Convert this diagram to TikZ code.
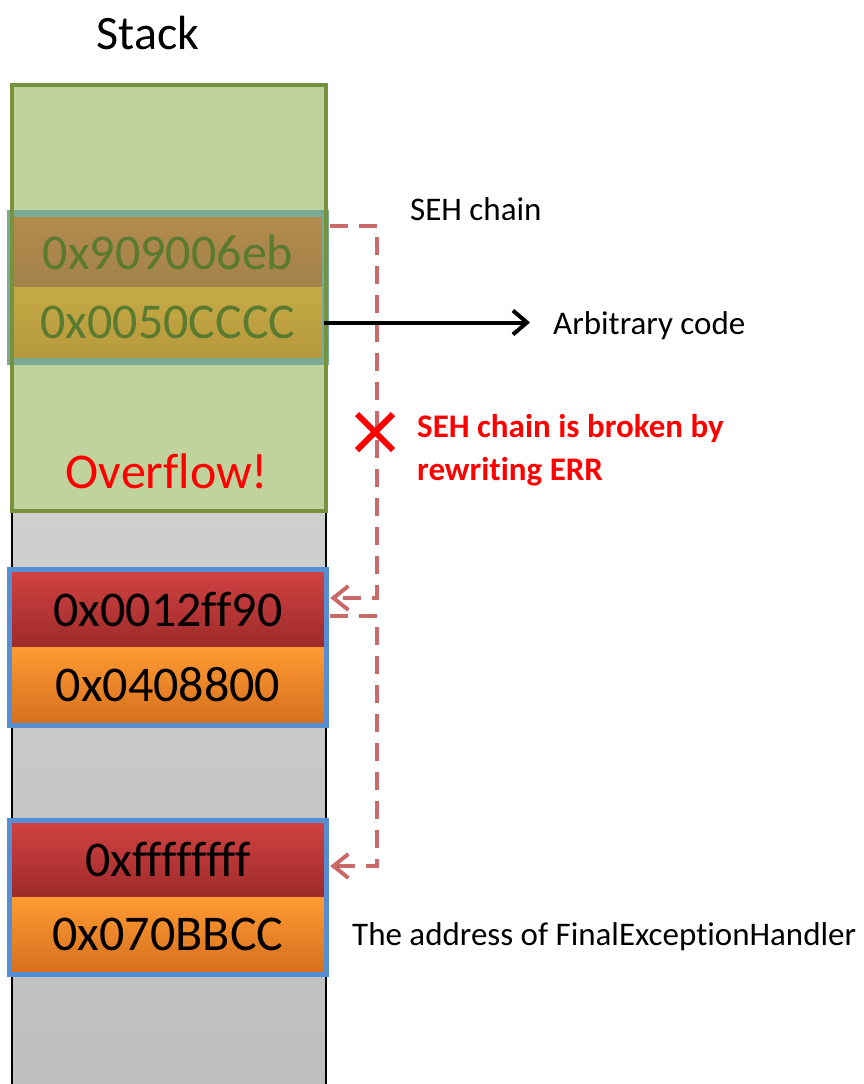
\documentclass[tikz,border=0pt]{standalone}
\usepackage{fontspec}
\setmainfont{Carlito}[Ligatures=NoCommon]
\usetikzlibrary{positioning,arrows.meta,calc}

\definecolor{stackA}{HTML}{DCDCDC}
\definecolor{stackB}{HTML}{BEBEBE}
\definecolor{overfill}{HTML}{C0D39C}
\definecolor{overedge}{HTML}{76923C}
\definecolor{oldframe}{HTML}{7AA996}
\definecolor{oldtext}{HTML}{5A7A30}
\definecolor{brownA}{HTML}{B38A4C}
\definecolor{brownB}{HTML}{A2834A}
\definecolor{oliveA}{HTML}{C6AA45}
\definecolor{oliveB}{HTML}{B5993C}
\definecolor{recframe}{HTML}{558ED5}
\definecolor{redA}{HTML}{D04242}
\definecolor{redB}{HTML}{9E2A2A}
\definecolor{orangeA}{HTML}{FF9A33}
\definecolor{orangeB}{HTML}{D6701E}
\definecolor{chainred}{HTML}{C0504D}

\begin{document}
\begin{tikzpicture}[x=1pt,y=-1pt,
  cell/.style={minimum width=312pt, inner sep=0pt, font=\fontsize{50}{54}\selectfont},
  nextcell/.style={cell, top color=redA, bottom color=redB},
  handcell/.style={cell, top color=orangeA, bottom color=orangeB},
  recbox/.style={draw=recframe, line width=5pt},
  chain/.style={draw=chainred, opacity=0.85, line width=4pt, dash pattern=on 18pt off 11pt,
    -{Straight Barb[length=15pt, width=24pt, line width=4pt]}},
  pointer/.style={line width=4pt, -{Straight Barb[length=14pt, width=24pt, line width=4pt]}},
  note/.style={font=\fontsize{33}{38}\selectfont, inner sep=0pt}]
\useasboundingbox (0,0) rectangle (863,1084);

% stack column
\shade[top color=stackA, bottom color=stackB] (12,83) rectangle (326,1084);
\draw[line width=2pt] (12,83) -- (12,1084);
\draw[line width=2pt] (326,83) -- (326,1084);
\node[font=\fontsize{48}{52}\selectfont, inner sep=0pt] (stacklbl) at (148,33) {Stack};

% overflowed area
\fill[overfill] (12,85) rectangle (326,511);
\node[cell, minimum height=70pt, top color=brownA, bottom color=brownB, text=oldtext] (next1) at (168,252) {0x909006eb};
\node[cell, minimum height=71pt, top color=oliveA, bottom color=oliveB, text=oldtext] (hand1) at (168,322.5) {0x0050CCCC};
\draw[draw=oldframe, line width=7pt] ([shift={(-1.5,-3.5)}]next1.north west) rectangle ([shift={(1.5,3.5)}]hand1.south east);
\draw[draw=overedge, line width=3.5pt] (12,85) rectangle (326,511);
\node[font=\fontsize{50}{54}\selectfont, text=red, anchor=base, inner sep=0pt] (overlbl) at (167,488) {Overflow!};

% second record
\node[nextcell, minimum height=75pt] (next2) at (168,609.5) {0x0012ff90};
\node[handcell, minimum height=76pt] (hand2) at (168,685) {0x0408800};
\draw[recbox] ([shift={(-2.5,-2.5)}]next2.north west) rectangle ([shift={(2.5,2.5)}]hand2.south east);

% last record
\node[nextcell, minimum height=74pt] (next3) at (168,860) {0xffffffff};
\node[handcell, minimum height=75pt] (hand3) at (168,934.5) {0x070BBCC};
\draw[recbox] ([shift={(-2.5,-2.5)}]next3.north west) rectangle ([shift={(2.5,2.5)}]hand3.south east);

% labels
\node[note, anchor=base west] (sehlbl) at (410,220) {SEH chain};
\node[note, anchor=base west] (arb) at (553,334) {Arbitrary code};
\node[note, anchor=base west] (finallbl) at (352,945) {The address of FinalExceptionHandler};
\node[note, font=\bfseries\fontsize{33}{43}\selectfont, text=red, anchor=base west, align=left] (brokenlbl) at (417,480) {SEH chain is broken by\\rewriting ERR};

% chain links
\draw[chain] ($(next1.east)+(6,-26)$) -| ($(next2.east)+(53,-11.5)$) -- ($(next2.east)+(6,-11.5)$);
\draw[chain] ($(next2.east)+(6,6.5)$) -| ($(next3.east)+(53,6)$) -- ($(next3.east)+(6,6)$);
\draw[pointer] (hand1.east) -- (hand1.east -| arb.west) [shorten >=23pt];
\draw[red, line width=6pt] (357,414) -- (393,450);
\draw[red, line width=6pt] (357,450) -- (393,414);
\end{tikzpicture}
\end{document}
